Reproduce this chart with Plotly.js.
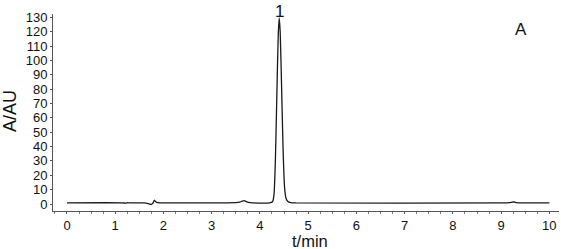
<!DOCTYPE html>
<html><head><meta charset="utf-8">
<script src="https://cdn.plot.ly/plotly-3.0.1.min.js"></script>
<style>html,body{margin:0;padding:0;background:#fff}#c{width:561px;height:249px}</style>
</head><body><div id="c"></div>
<script>
const timeMin = [0, 1.15, 1.22, 1.26, 1.3, 1.6, 1.66, 1.71, 1.75, 1.78, 1.81, 1.84, 1.88, 1.93, 2.0, 3.3, 3.5, 3.58, 3.63, 3.67, 3.71, 3.76, 3.85, 4.2, 4.26, 4.29, 4.32, 4.35, 4.38, 4.40, 4.42, 4.45, 4.48, 4.51, 4.54, 4.58, 4.64, 4.75, 9.1, 9.18, 9.23, 9.27, 9.32, 9.4, 10];
const absorb  = [0.8, 0.8, 0.6, 0.9, 0.8, 0.8, 0.5, 0.0, -0.2, 0.6, 2.6, 1.6, 0.9, 0.8, 0.8, 0.8, 0.9, 1.3, 2.0, 2.4, 1.8, 1.1, 0.8, 0.8, 1.6, 6, 30, 75, 118, 129.5, 120, 80, 38, 12, 4, 1.8, 1.0, 0.8, 0.8, 0.9, 1.3, 1.4, 1.0, 0.8, 0.8];
const peakLabel = {t: 4.40, text: "1"};
const panelLabel = "A";
const xTitle = "t/min";
const yTitle = "A/AU";
const xTicks = [0,1,2,3,4,5,6,7,8,9,10];
const yTicks = [0,10,20,30,40,50,60,70,80,90,100,110,120,130];

const font = "Liberation Sans, Arial, sans-serif";
const L = 53, T = 14, W = 506, H = 197;
const px = v => (v - L) / W;
const py = v => (T + H - v) / H;
Plotly.newPlot("c", [{
  x: timeMin, y: absorb, type: "scatter", mode: "lines",
  line: {color: "#1a1a1a", width: 1.3, shape: "spline", smoothing: 0.6},
  hoverinfo: "skip"
}], {
  width: 561, height: 249,
  margin: {l: L, r: 561 - L - W, t: T, b: 249 - T - H},
  paper_bgcolor: "#fff", plot_bgcolor: "#fff",
  showlegend: false,
  xaxis: {
    range: [-0.29, 10.2], tickvals: xTicks, ticktext: xTicks.map(String),
    showgrid: false, zeroline: false, showline: true, linecolor: "#555", linewidth: 1,
    ticks: "outside", ticklen: 2, tickcolor: "#555",
    minor: {dtick: 0.25, tick0: 0, ticks: "outside", ticklen: 2, tickcolor: "#777", showgrid: false},
    tickfont: {family: font, size: 13, color: "#111"}, automargin: false
  },
  yaxis: {
    range: [-4.87, 132.3], tickvals: yTicks, ticktext: yTicks.map(String),
    showgrid: false, zeroline: false, showline: true, linecolor: "#555", linewidth: 1,
    ticks: "outside", ticklen: 2, tickcolor: "#555",
    tickfont: {family: font, size: 13, color: "#111"}, automargin: false
  },
  annotations: [
    {x: peakLabel.t, y: py(11), xref: "x", yref: "paper", text: peakLabel.text, showarrow: false,
     yanchor: "middle", font: {family: font, size: 17, color: "#111"}},
    {x: px(521), y: py(29), xref: "paper", yref: "paper", text: panelLabel, showarrow: false,
     xanchor: "center", yanchor: "middle", font: {family: font, size: 17, color: "#111"}},
    {x: px(310), y: py(241), xref: "paper", yref: "paper", text: xTitle, showarrow: false,
     xanchor: "center", yanchor: "middle", font: {family: font, size: 16.5, color: "#111"}},
    {x: px(10), y: py(111), xref: "paper", yref: "paper", text: yTitle, showarrow: false, textangle: -90,
     xanchor: "center", yanchor: "middle", font: {family: font, size: 18, color: "#111"}}
  ]
}, {staticPlot: true, displayModeBar: false});
</script></body></html>
